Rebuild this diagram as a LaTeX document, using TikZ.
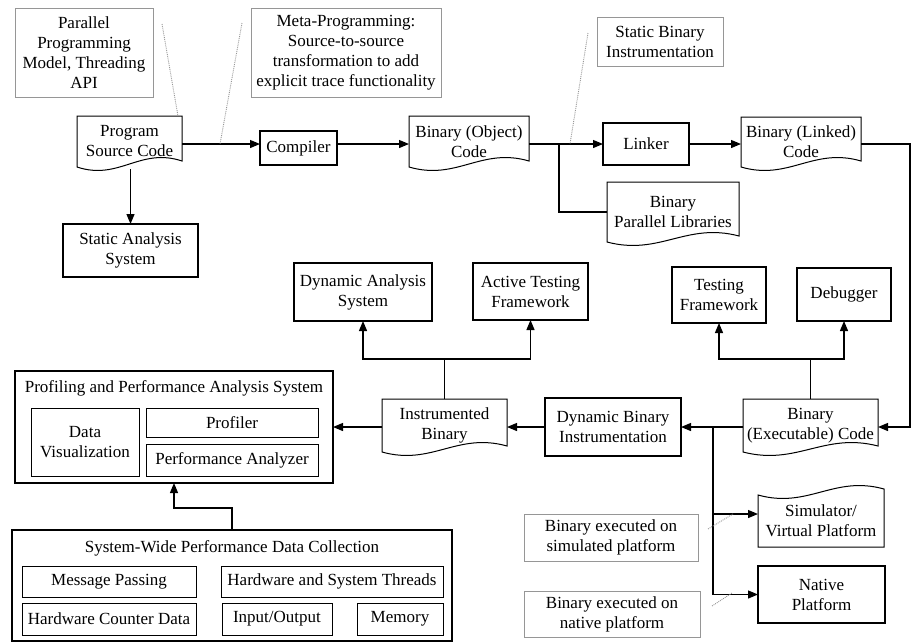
\documentclass[tikz,border=0pt]{standalone}
\usepackage{fontspec}
\setmainfont{Liberation Serif}
\usetikzlibrary{arrows.meta,calc}
\definecolor{calloutgray}{RGB}{150,150,150}
\newcommand{\mydocb}[1]{\draw[docline] (#1.south west) -- (#1.north west) -- (#1.north east) -- ($(#1.south east)+(0,6pt)$) .. controls ($(#1.south west)!0.6!(#1.south east)+(0,20pt)$) and ($(#1.south west)!0.4!(#1.south east)+(0,-14pt)$) .. (#1.south west) -- cycle;}
\newcommand{\mydoct}[1]{\draw[docline] (#1.north west) .. controls ($(#1.north west)!0.4!(#1.north east)+(0,-14pt)$) and ($(#1.north west)!0.6!(#1.north east)+(0,20pt)$) .. ($(#1.north east)+(0,6pt)$) -- (#1.south east) -- (#1.south west) -- cycle;}
\begin{document}
\begin{tikzpicture}[x=1pt,y=-1pt,
  font=\fontsize{17}{20}\selectfont,
  base/.style={align=center, inner sep=0pt, outer sep=0pt},
  thickbox/.style={base, draw, line width=2.2pt},
  thinbox/.style={base, draw, line width=1pt},
  callout/.style={base, draw=calloutgray, line width=0.9pt},
  docnode/.style={base},
  docline/.style={line width=1pt, line join=miter},
  arr/.style={line width=1.2pt, -{Triangle[length=10pt,width=8pt]}},
  ln/.style={line width=1.2pt},
  dotl/.style={calloutgray, line width=0.9pt, densely dotted}]
\useasboundingbox (0,0) rectangle (916,643);

% row coordinates
\coordinate (rowA) at (0,144);
\coordinate (rowB) at (0,427);
\coordinate (rowC) at (0,359);
\coordinate (rowD) at (0,508);
\coordinate (simY) at (0,514);
\coordinate (brO) at (559,0);
\coordinate (brX) at (713,0);
\coordinate (cR) at (910,0);

% callouts
\node[callout, minimum width=138pt, minimum height=89pt] (callPar) at (84,52.5) {Parallel\\Programming\\Model, Threading\\API};
\node[callout, minimum width=190pt, minimum height=89pt] (callMeta) at (346,52.5) {Meta-Programming:\\Source-to-source\\transformation to add\\explicit trace functionality};
\node[callout, minimum width=126pt, minimum height=49pt] (callSBI) at (660,41.5) {Static Binary\\Instrumentation};
\node[callout, minimum width=174pt, minimum height=47pt] (callSim) at (611,537.5) {Binary executed on\\simulated platform};
\node[callout, minimum width=176pt, minimum height=46pt] (callNat) at (612,614) {Binary executed on\\native platform};

% top row
\node[docnode, minimum width=105pt, minimum height=51pt] (src) at (129.5,141.5) {Program\\Source Code};
\mydocb{src}
\node[thickbox, minimum width=77pt, minimum height=34pt] (compiler) at (298.5,148) {Compiler};
\node[docnode, minimum width=120pt, minimum height=51pt] (obj) at (469,141.5) {Binary (Object)\\Code};
\mydocb{obj}
\node[thickbox, minimum width=86pt, minimum height=42pt] (linker) at (646,144) {Linker};
\node[docnode, minimum width=120pt, minimum height=50pt] (linked) at (801,142) {Binary (Linked)\\Code};
\mydocb{linked}
\node[docnode, minimum width=132pt, minimum height=60pt] (libs) at (673,212) {Binary\\Parallel Libraries};
\mydocb{libs}
\node[thickbox, minimum width=135pt, minimum height=53pt] (static) at (130.5,250.5) {Static Analysis\\System};

% analysis / testing tools
\node[thickbox, minimum width=138pt, minimum height=58pt] (dynAn) at (363,292) {Dynamic Analysis\\System};
\node[thickbox, minimum width=115pt, minimum height=57pt] (active) at (530.5,291.5) {Active Testing\\Framework};
\node[thickbox, minimum width=94pt, minimum height=56pt] (testing) at (719,295) {Testing\\Framework};
\node[thickbox, minimum width=94pt, minimum height=53pt] (debugger) at (844,294.5) {Debugger};

% profiling system
\node[thickbox, minimum width=318pt, minimum height=112pt] (prof) at (174,427) {};
\node[base] (profT) at (174,388) {Profiling and Performance Analysis System};
\node[thinbox, minimum width=108pt, minimum height=68pt] (dataVis) at (85,442) {Data\\Visualization};
\node[thinbox, minimum width=172pt, minimum height=29pt] (profiler) at (232,422.5) {Profiler};
\node[thinbox, minimum width=172pt, minimum height=32pt] (perfAn) at (232,460) {Performance Analyzer};

% middle row
\node[docnode, minimum width=125pt, minimum height=53pt] (instr) at (444.5,425.5) {Instrumented\\Binary};
\mydocb{instr}
\node[thickbox, minimum width=136pt, minimum height=58pt] (dbi) at (613,427) {Dynamic Binary\\Instrumentation};
\node[docnode, minimum width=135pt, minimum height=53pt] (exec) at (810.5,425.5) {Binary\\(Executable) Code};
\mydocb{exec}

% platforms
\node[docnode, minimum width=126pt, minimum height=52pt] (sim) at (821,521) {Simulator/\\Virtual Platform};
\mydoct{sim}
\node[thickbox, minimum width=127pt, minimum height=57pt] (native) at (821.5,594.5) {Native\\Platform};

% system-wide data collection
\node[thickbox, minimum width=440pt, minimum height=111pt] (sys) at (232,585.5) {};
\node[base] (sysT) at (232,548) {System-Wide Performance Data Collection};
\node[thinbox, minimum width=174pt, minimum height=31pt] (msg) at (109,581.5) {Message Passing};
\node[thinbox, minimum width=222pt, minimum height=31pt] (hwT) at (332,581.5) {Hardware and System Threads};
\node[thinbox, minimum width=174pt, minimum height=32pt] (hwC) at (109,619) {Hardware Counter Data};
\node[thinbox, minimum width=110pt, minimum height=32pt] (io) at (277,619) {Input/Output};
\node[thinbox, minimum width=86pt, minimum height=32pt] (mem) at (400,619) {Memory};

% connectors
\draw[arr] (src.east |- rowA) -- (compiler.west |- rowA);
\draw[arr] (compiler.east |- rowA) -- (obj.west |- rowA);
\draw[arr] (obj.east |- rowA) -- (linker.west |- rowA);
\draw[ln] (brO |- rowA) |- (libs.west);
\draw[arr] (linker.east |- rowA) -- (linked.west |- rowA);
\draw[arr] (linked.east |- rowA) -| (cR |- rowB) -- (exec.east |- rowB);
\draw[arr] ([yshift=-2pt]static.north |- src.south) -- (static.north);
\draw[arr] (exec.north) |- (testing.south |- rowC) -- (testing.south);
\draw[arr] (exec.north) |- (debugger.south |- rowC) -- (debugger.south);
\draw[arr] (exec.west |- rowB) -- (dbi.east |- rowB);
\draw[ln] (brX |- rowB) -- (brX |- native.west);
\draw[arr] (brX |- simY) -- (sim.west |- simY);
\draw[arr] (brX |- native.west) -- (native.west);
\draw[arr] (dbi.west |- rowB) -- (instr.east |- rowB);
\draw[arr] (instr.north) |- (dynAn.south |- rowC) -- (dynAn.south);
\draw[arr] (instr.north) |- (active.south |- rowC) -- (active.south);
\draw[arr] (instr.west |- rowB) -- (prof.east |- rowB);
\draw[arr] (sys.north) |- (prof.south |- rowD) -- (prof.south);

% dotted callout leaders
\coordinate (d1a) at (162,24);  \coordinate (d1b) at (178,116);
\coordinate (d2a) at (242,23);  \coordinate (d2b) at (220,144);
\coordinate (d3a) at (588,33);  \coordinate (d3b) at (570,144);
\coordinate (d4a) at (708,529); \coordinate (d4b) at (733,514);
\coordinate (d5a) at (712,606); \coordinate (d5b) at (732,593);
\draw[dotl] (d1a) -- (d1b);
\draw[dotl] (d2a) -- (d2b);
\draw[dotl] (d3a) -- (d3b);
\draw[dotl] (d4a) -- (d4b);
\draw[dotl] (d5a) -- (d5b);
\end{tikzpicture}
\end{document}
